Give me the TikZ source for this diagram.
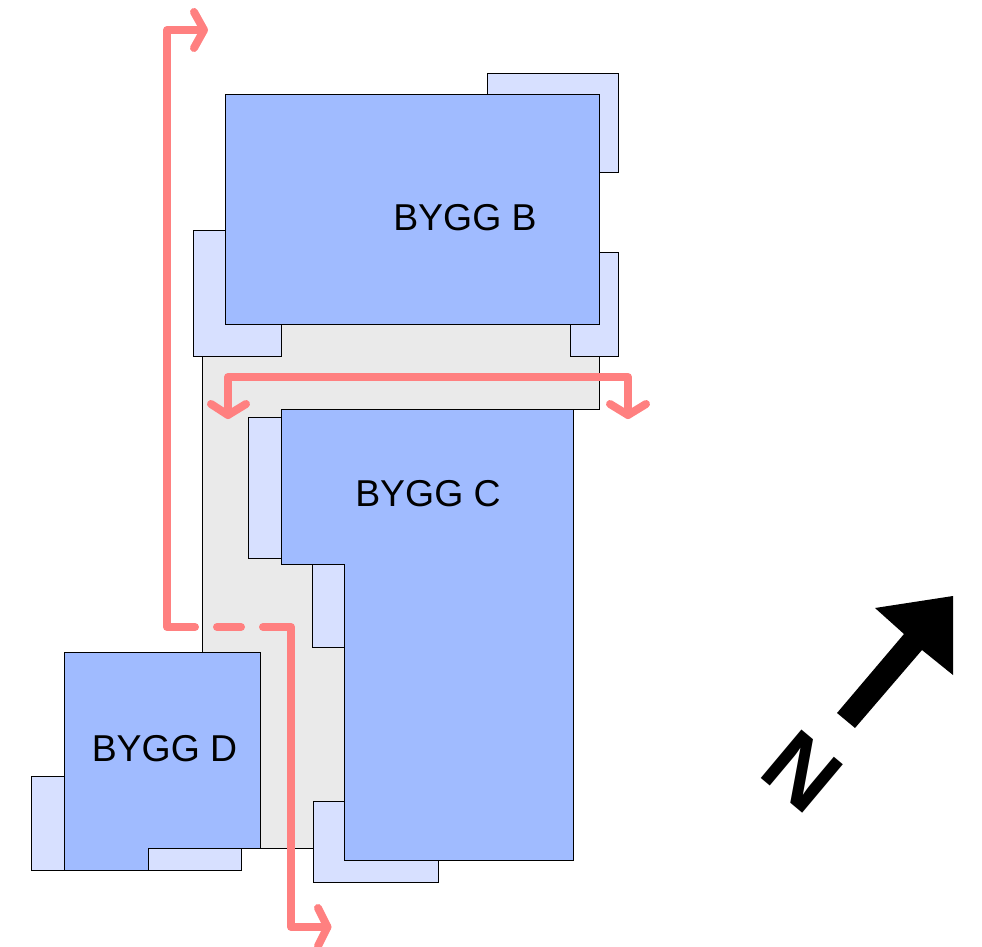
\documentclass[tikz,border=0pt]{standalone}
\usepackage{fontspec}
\setmainfont{Liberation Sans}
\definecolor{bldg}{HTML}{A0BBFF}
\definecolor{annex}{HTML}{D7E0FF}
\definecolor{yard}{HTML}{EAEAEA}
\definecolor{route}{HTML}{FF8080}
\tikzset{
  outline/.style={draw=black,line width=1pt,line join=miter},
  building/.style={outline,fill=bldg},
  annexe/.style={outline,fill=annex},
  yardarea/.style={outline,fill=yard},
  routeline/.style={draw=route,line width=8pt,line cap=round,line join=round},
  label/.style={font=\fontsize{37.4pt}{40pt}\selectfont,anchor=base,inner sep=0pt,text=black},
}
\begin{document}
\begin{tikzpicture}[x=1pt,y=-1pt]
\useasboundingbox (0,0) rectangle (982,947);
\begin{scope}[xshift=-0.3pt]
% yard
\draw[yardarea] (203,324) -- (600,324) -- (600,409) -- (345,409) -- (345,848) -- (203,848) -- cycle;
% annexes
\draw[annexe] (488,74) rectangle (619,172);
\draw[annexe] (571,252) rectangle (619,356);
\draw[annexe] (194,230) rectangle (282,356);
\draw[annexe] (249,417) rectangle (300,558);
\draw[annexe] (313,540) rectangle (360,647);
\draw[annexe] (314,801) rectangle (439,882);
\draw[annexe] (32,776) rectangle (80,870);
\draw[annexe] (149,848) rectangle (242,870);
% buildings
\draw[building] (226,95) rectangle (600,324);
\draw[building] (282,409) -- (574,409) -- (574,860) -- (345,860) -- (345,564) -- (282,564) -- cycle;
\draw[building] (65,652) -- (261,652) -- (261,848) -- (149,848) -- (149,870) -- (65,870) -- cycle;
\end{scope}
% route coordinates
\coordinate (tipN) at (204,30);
\coordinate (cornerN) at (167,30);
\coordinate (cornerW) at (167,627);
\coordinate (dashA) at (195,627);
\coordinate (dashB) at (217,627);
\coordinate (dashC) at (241,627);
\coordinate (dashD) at (263,627);
\coordinate (cornerE) at (291,627);
\coordinate (cornerS) at (291,927);
\coordinate (tipS) at (327.5,927);
\coordinate (tipL) at (228,415);
\coordinate (cornerL) at (228,377);
\coordinate (cornerR) at (628,377);
\coordinate (tipR) at (628,415);
% routes
\draw[routeline] (tipN) -- (cornerN) -- (cornerW) -- (dashA);
\draw[routeline] (dashB) -- (dashC);
\draw[routeline] (dashD) -- (cornerE) -- (cornerS) -- (tipS);
\draw[routeline] (tipL) -- (cornerL) -- (cornerR) -- (tipR);
\draw[routeline] (194,12) -- (tipN) -- (194,48);
\draw[routeline] (318,908) -- (tipS) -- (318,946);
\draw[routeline] (211,404) -- (tipL) -- (246,404);
\draw[routeline] (610,404) -- (tipR) -- (646,404);
% labels
\node[label] (b) at (465,230) {BYGG B};
\node[label] (c) at (428,506) {BYGG C};
\node[label] (d) at (164.5,761) {BYGG D};
% north arrow
\fill[black] (875,608) -- (953,596) -- (953,675) -- (922,650) -- (855,728) -- (837,713) -- (904,634) -- cycle;
\node[font=\fontsize{92pt}{92pt}\selectfont\bfseries,inner sep=0pt,rotate=-40] (north) at (802.5,771.5) {N};
\end{tikzpicture}
\end{document}
